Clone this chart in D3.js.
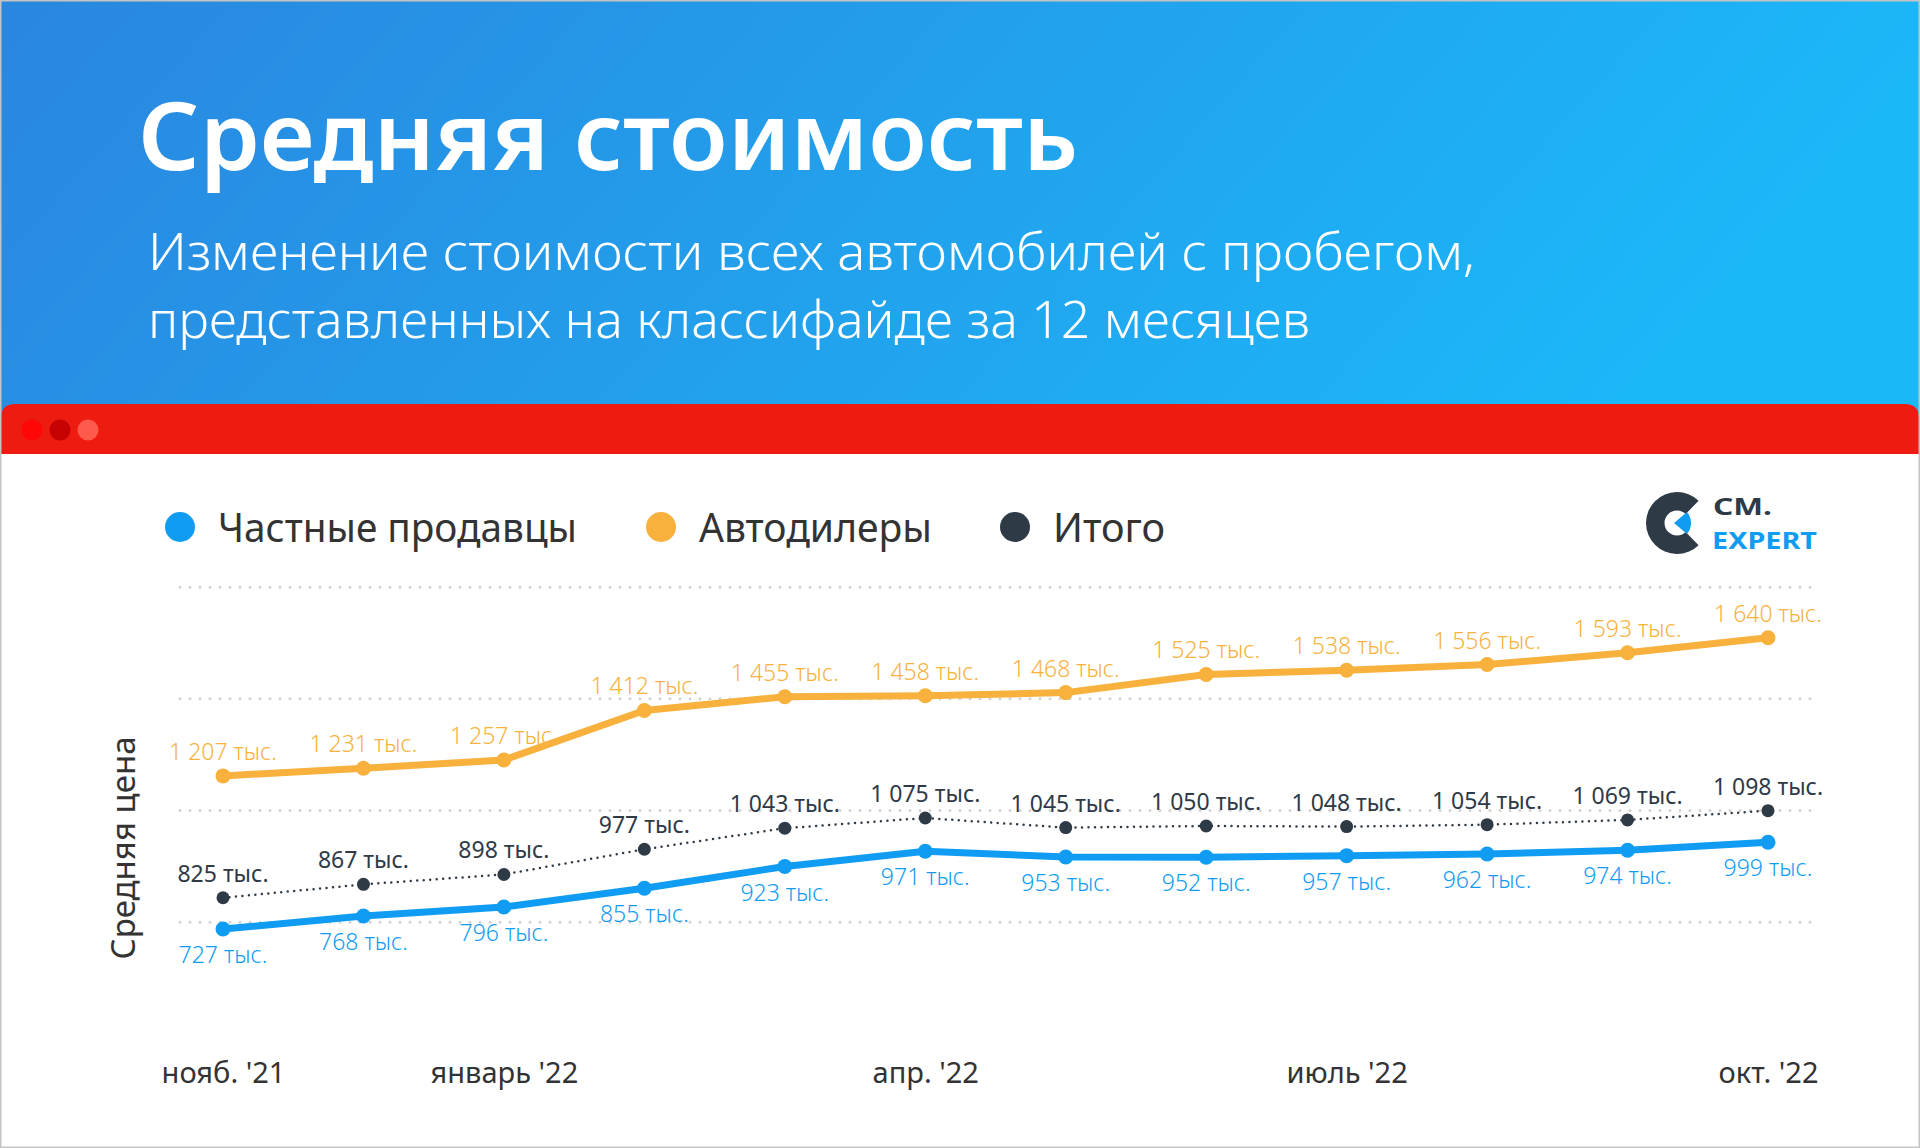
<!DOCTYPE html>
<html>
<head>
<meta charset="utf-8">
<title>Средняя стоимость</title>
<style>
  html, body { margin: 0; padding: 0; background: #fff; }
  svg { display: block; font-family: "Noto Sans", "Open Sans", sans-serif; }
</style>
</head>
<body>
<script src="https://cdn.jsdelivr.net/npm/d3@7"></script>
<script>
// данные
const months = ["нояб. '21", "дек. '21", "январь '22", "фев. '22", "март '22", "апр. '22",
                "май '22", "июнь '22", "июль '22", "авг. '22", "сент. '22", "окт. '22"]
const tickMonths = ["нояб. '21", "январь '22", "апр. '22", "июль '22", "окт. '22"]
const privateSellers = [727, 768, 796, 855, 923, 971, 953, 952, 957, 962, 974, 999]
const dealers = [1207, 1231, 1257, 1412, 1455, 1458, 1468, 1525, 1538, 1556, 1593, 1640]
const total = [825, 867, 898, 977, 1043, 1075, 1045, 1050, 1048, 1054, 1069, 1098]
const gridValues = [750, 1100, 1450, 1800]
const legendNames = ["Частные продавцы", "Автодилеры", "Итого"]

const W = 1920, H = 1148
const colors = { blue: "#109cf2", orange: "#f7b13c", dark: "#2f3a47" }

const svg = d3.select("body").append("svg")
  .attr("width", W).attr("height", H)

// шапка с градиентом
const grad = svg.append("defs").append("linearGradient")
  .attr("id", "hdr").attr("x1", 0).attr("y1", 0).attr("x2", 1).attr("y2", 0.2)
grad.append("stop").attr("offset", "0%").attr("stop-color", "#2a86df")
grad.append("stop").attr("offset", "100%").attr("stop-color", "#1bb8f8")

svg.append("rect").attr("width", W).attr("height", 430).attr("fill", "url(#hdr)")
svg.append("rect").attr("y", 430).attr("width", W).attr("height", H - 430).attr("fill", "#fff")

svg.append("text")
  .attr("x", 138).attr("y", 170)
  .attr("fill", "#fff").attr("font-size", 94).attr("font-weight", 600)
  .attr("textLength", 940).attr("lengthAdjust", "spacingAndGlyphs")
  .text("Средняя стоимость")

const subtitle = [
  { t: "Изменение стоимости всех автомобилей с пробегом,", y: 270, len: 1327 },
  { t: "представленных на классифайде за 12 месяцев", y: 338, len: 1162 }
]
svg.selectAll("text.sub").data(subtitle).enter().append("text")
  .attr("class", "sub")
  .attr("x", 148).attr("y", d => d.y)
  .attr("fill", "#fff").attr("font-size", 51).attr("font-weight", 300)
  .attr("textLength", d => d.len).attr("lengthAdjust", "spacingAndGlyphs")
  .text(d => d.t)

// красная полоса окна
const r = 14
svg.append("path")
  .attr("d", `M1,454 V${404 + r} Q1,404 ${1 + r},404 H${1919 - r} Q1919,404 1919,${404 + r} V454 Z`)
  .attr("fill", "#ee1b11")
svg.selectAll("circle.win").data(["#ff0707", "#c70202", "#ff5a4b"]).enter().append("circle")
  .attr("class", "win")
  .attr("cx", (d, i) => 32 + i * 28).attr("cy", 430).attr("r", 10.5)
  .attr("fill", d => d)

// рамка
svg.append("rect").attr("x", 0.75).attr("y", 0.75).attr("width", W - 1.5).attr("height", H - 1.5)
  .attr("fill", "none").attr("stroke", "#c4c4c4").attr("stroke-width", 1.5)

// легенда
const legend = svg.append("g")
const legendX = [180, 661, 1015]
const legendLen = [359, 233, 112]
const legendColors = [colors.blue, colors.orange, colors.dark]
legendNames.forEach((name, i) => {
  legend.append("circle").attr("cx", legendX[i]).attr("cy", 527).attr("r", 15).attr("fill", legendColors[i])
  legend.append("text").attr("x", legendX[i] + 38).attr("y", 542)
    .attr("font-size", 40).attr("fill", "#333")
    .attr("textLength", legendLen[i]).attr("lengthAdjust", "spacingAndGlyphs")
    .text(name)
})

// логотип
const logo = svg.append("g").attr("transform", "translate(1677,523)")
logo.append("path")
  .attr("d", d3.arc()({ innerRadius: 12.5, outerRadius: 31,
    startAngle: Math.PI / 2 + 0.8, endAngle: Math.PI / 2 + 2 * Math.PI - 0.8 }))
  .attr("fill", colors.dark)
logo.append("path")
  .attr("transform", "translate(-3,0)")
  .attr("d", d3.arc()({ innerRadius: 0, outerRadius: 17,
    startAngle: Math.PI / 2 - 0.7, endAngle: Math.PI / 2 + 0.7 }))
  .attr("fill", colors.blue)
svg.append("text").attr("x", 1713).attr("y", 515)
  .attr("font-size", 24).attr("font-weight", 700).attr("fill", colors.dark)
  .attr("textLength", 59).attr("lengthAdjust", "spacingAndGlyphs").text("CM.")
svg.append("text").attr("x", 1712).attr("y", 549)
  .attr("font-size", 24).attr("font-weight", 700).attr("fill", colors.blue)
  .attr("textLength", 105).attr("lengthAdjust", "spacingAndGlyphs").text("EXPERT")

// шкалы
const x = d3.scalePoint().domain(months).range([223, 1768])
const y = d3.scaleLinear().domain([750, 1800]).range([921.7, 586.7])

// сетка
const grid = svg.append("g")
  .attr("transform", "translate(180,0)")
  .call(d3.axisLeft(y).tickValues(gridValues).tickSize(-(1812 - 180)).tickFormat(""))
grid.select(".domain").remove()
grid.selectAll("line")
  .attr("stroke", "#d2d2d2").attr("stroke-width", 3)
  .attr("stroke-dasharray", "0 10").attr("stroke-linecap", "round")

// ось X
const ax = svg.append("g")
  .attr("transform", "translate(0,1083)")
  .call(d3.axisBottom(x).tickValues(tickMonths).tickSize(0))
ax.select(".domain").remove()
ax.selectAll("text")
  .attr("y", 0).attr("dy", 0)
  .attr("font-family", "Noto Sans, sans-serif")
  .attr("font-size", 29).attr("fill", "#333")

// подпись оси Y
svg.append("text")
  .attr("transform", "translate(135,848) rotate(-90)")
  .attr("text-anchor", "middle").attr("font-size", 33).attr("fill", "#333")
  .text("Средняя цена")

const fmt = d3.formatLocale({ decimal: ",", thousands: " ", grouping: [3], currency: ["", ""] }).format(",d")
const series = [
  { data: dealers, color: colors.orange, width: 7, dy: -16, weight: 300, dash: null },
  { data: total, color: colors.dark, width: 2.5, dy: -16, weight: 400, dash: "0 6.5" },
  { data: privateSellers, color: colors.blue, width: 7, dy: 34, weight: 300, dash: null }
]

// подписи значений (под линиями)
series.forEach(s => {
  svg.append("g").selectAll("text").data(s.data).enter().append("text")
    .attr("x", (d, i) => x(months[i]))
    .attr("y", d => y(d) + s.dy)
    .attr("text-anchor", "middle")
    .attr("font-size", 23).attr("font-weight", s.weight)
    .attr("fill", s.color)
    .text(d => fmt(d) + " тыс.")
})

// линии и точки
const line = d3.line().x((d, i) => x(months[i])).y(d => y(d))
series.forEach(s => {
  const g = svg.append("g")
  g.append("path")
    .attr("d", line(s.data))
    .attr("fill", "none").attr("stroke", s.color)
    .attr("stroke-width", s.width)
    .attr("stroke-linecap", "round").attr("stroke-linejoin", "round")
    .attr("stroke-dasharray", s.dash)
  g.selectAll("circle").data(s.data).enter().append("circle")
    .attr("cx", (d, i) => x(months[i]))
    .attr("cy", d => y(d))
    .attr("r", s.dash ? 6.5 : 7.5)
    .attr("fill", s.color)
})
</script>
</body>
</html>
